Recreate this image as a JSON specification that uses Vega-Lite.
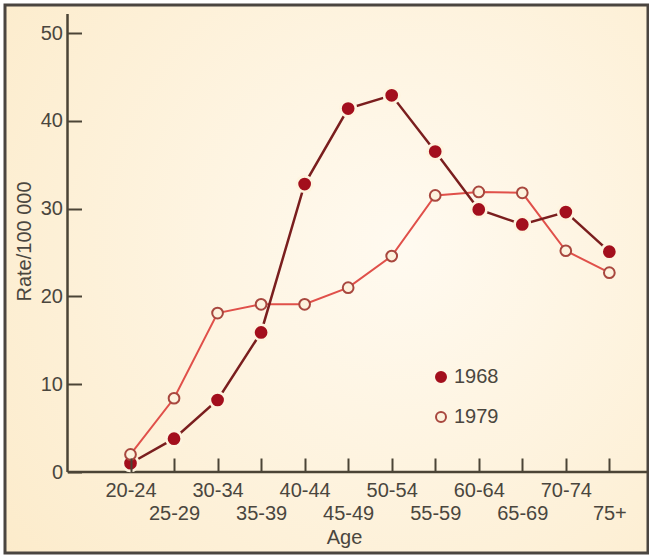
{
  "$schema": "https://vega.github.io/schema/vega-lite/v6.json",
  "width": 643,
  "height": 548,
  "autosize": {"type": "none"},
  "padding": {"left": 5, "top": 5, "right": 1, "bottom": 3},
  "background": "#ffffff",
  "config": {"view": {"stroke": null}, "font": "Liberation Sans"},
  "datasets": {
    "bg": [{"k": 1}],
    "axislines": [
      {"idx": -1.447, "idx2": -1.447, "rate": 0, "rate2": 52.16},
      {"idx": -1.447, "idx2": 11.88, "rate": 0, "rate2": 0}
    ],
    "rates": [
      {"age": "20-24", "idx": 0, "year": "1968", "rate": 1.0},
      {"age": "25-29", "idx": 1, "year": "1968", "rate": 3.8},
      {"age": "30-34", "idx": 2, "year": "1968", "rate": 8.2},
      {"age": "35-39", "idx": 3, "year": "1968", "rate": 15.9},
      {"age": "40-44", "idx": 4, "year": "1968", "rate": 32.8},
      {"age": "45-49", "idx": 5, "year": "1968", "rate": 41.4},
      {"age": "50-54", "idx": 6, "year": "1968", "rate": 42.9},
      {"age": "55-59", "idx": 7, "year": "1968", "rate": 36.5},
      {"age": "60-64", "idx": 8, "year": "1968", "rate": 29.9},
      {"age": "65-69", "idx": 9, "year": "1968", "rate": 28.2},
      {"age": "70-74", "idx": 10, "year": "1968", "rate": 29.6},
      {"age": "75+", "idx": 11, "year": "1968", "rate": 25.1},
      {"age": "20-24", "idx": 0, "year": "1979", "rate": 2.0},
      {"age": "25-29", "idx": 1, "year": "1979", "rate": 8.4},
      {"age": "30-34", "idx": 2, "year": "1979", "rate": 18.1},
      {"age": "35-39", "idx": 3, "year": "1979", "rate": 19.1},
      {"age": "40-44", "idx": 4, "year": "1979", "rate": 19.1},
      {"age": "45-49", "idx": 5, "year": "1979", "rate": 21.0},
      {"age": "50-54", "idx": 6, "year": "1979", "rate": 24.6},
      {"age": "55-59", "idx": 7, "year": "1979", "rate": 31.5},
      {"age": "60-64", "idx": 8, "year": "1979", "rate": 31.9},
      {"age": "65-69", "idx": 9, "year": "1979", "rate": 31.8},
      {"age": "70-74", "idx": 10, "year": "1979", "rate": 25.2},
      {"age": "75+", "idx": 11, "year": "1979", "rate": 22.7}
    ]
  },
  "layer": [
    {
      "data": {"name": "bg"},
      "mark": {
        "type": "rect",
        "fill": {
          "gradient": "radial",
          "x1": 0.62, "y1": 0.45, "r1": 0,
          "x2": 0.62, "y2": 0.45, "r2": 0.8,
          "stops": [
            {"offset": 0, "color": "#fffaf0"},
            {"offset": 1, "color": "#fcebca"}
          ]
        },
        "stroke": "#4a4540",
        "strokeWidth": 3
      },
      "encoding": {}
    },
    {
      "encoding": {
        "x": {
          "field": "idx", "type": "quantitative",
          "scale": {"domain": [-2.883, 11.888], "nice": false, "zero": false},
          "axis": {
            "zindex": 1,
            "values": [0, 1, 2, 3, 4, 5, 6, 7, 8, 9, 10, 11],
            "domain": false, "grid": false, "offset": -81,
            "tickSize": -14, "tickColor": "#4b4436", "tickWidth": 2,
            "labelExpr": "datum.value % 2 == 1 ? ['', ['20-24','25-29','30-34','35-39','40-44','45-49','50-54','55-59','60-64','65-69','70-74','75+'][datum.value]] : ['20-24','25-29','30-34','35-39','40-44','45-49','50-54','55-59','60-64','65-69','70-74','75+'][datum.value]",
            "labelFont": "Liberation Sans", "labelFontSize": 20, "labelColor": "#4a463e",
            "labelPadding": 22, "labelLineHeight": 23, "labelBaseline": "top",
            "labelFlush": false, "labelOverlap": false,
            "title": "Age", "titleFont": "Liberation Sans", "titleFontSize": 20, "titleFontWeight": "normal", "titleColor": "#4a463e",
            "titleX": 339, "titleY": 71, "titleBaseline": "alphabetic", "titleAlign": "center"
          }
        },
        "y": {
          "field": "rate", "type": "quantitative",
          "scale": {"domain": [-9.225, 53.19], "nice": false, "zero": false},
          "axis": {
            "zindex": 1,
            "values": [0, 10, 20, 30, 40, 50],
            "domain": false, "grid": false, "offset": -62.5,
            "tickSize": -14, "tickColor": "#4b4436", "tickWidth": 2,
            "labelFont": "Liberation Sans", "labelFontSize": 20, "labelColor": "#4a463e",
            "labelPadding": 19, "labelFlush": false, "labelOverlap": false,
            "title": "Rate/100 000", "titleFont": "Liberation Sans", "titleFontSize": 20, "titleFontWeight": "normal", "titleColor": "#4a463e",
            "titleX": -43.5, "titleY": 236, "titleAngle": -90, "titleBaseline": "middle", "titleAlign": "center"
          }
        }
      },
      "layer": [
        {
          "data": {"name": "axislines"},
          "mark": {"type": "rule", "color": "#4b4436", "strokeWidth": 2.5},
          "encoding": {
            "x2": {"field": "idx2"},
            "y2": {"field": "rate2"}
          }
        },
        {
          "data": {"name": "rates"},
          "transform": [{"filter": "datum.year == '1979'"}],
          "mark": {"type": "line", "color": "#e0504a", "strokeWidth": 2},
          "encoding": {}
        },
        {
          "data": {"name": "rates"},
          "transform": [{"filter": "datum.year == '1968'"}],
          "mark": {"type": "line", "color": "#7a1e1e", "strokeWidth": 2.5},
          "encoding": {}
        },
        {
          "data": {"name": "rates"},
          "transform": [{"filter": "datum.year == '1968'"}],
          "mark": {"type": "circle", "size": 330, "color": "#fef4df", "opacity": 1},
          "encoding": {}
        },
        {
          "data": {"name": "rates"},
          "mark": {"type": "point", "shape": "circle", "size": 115, "strokeWidth": 2, "opacity": 1},
          "encoding": {
            "fill": {
              "field": "year", "type": "nominal",
              "scale": {"domain": ["1968", "1979"], "range": ["#a30f1d", "#fdf2dd"]},
              "legend": {"orient": "none", "legendX": 426, "legendY": 362, "title": null, "labelFont": "Liberation Sans", "labelFontSize": 20, "labelColor": "#4a463e", "symbolSize": 100, "symbolStrokeWidth": 2, "rowPadding": 20, "labelOffset": 3, "padding": 0}
            },
            "stroke": {
              "field": "year", "type": "nominal",
              "scale": {"domain": ["1968", "1979"], "range": ["#a30f1d", "#a8473e"]},
              "legend": {"orient": "none", "legendX": 426, "legendY": 362, "title": null, "labelFont": "Liberation Sans", "labelFontSize": 20, "labelColor": "#4a463e", "symbolSize": 100, "symbolStrokeWidth": 2, "rowPadding": 20, "labelOffset": 3, "padding": 0}
            }
          }
        }
      ]
    }
  ]
}
